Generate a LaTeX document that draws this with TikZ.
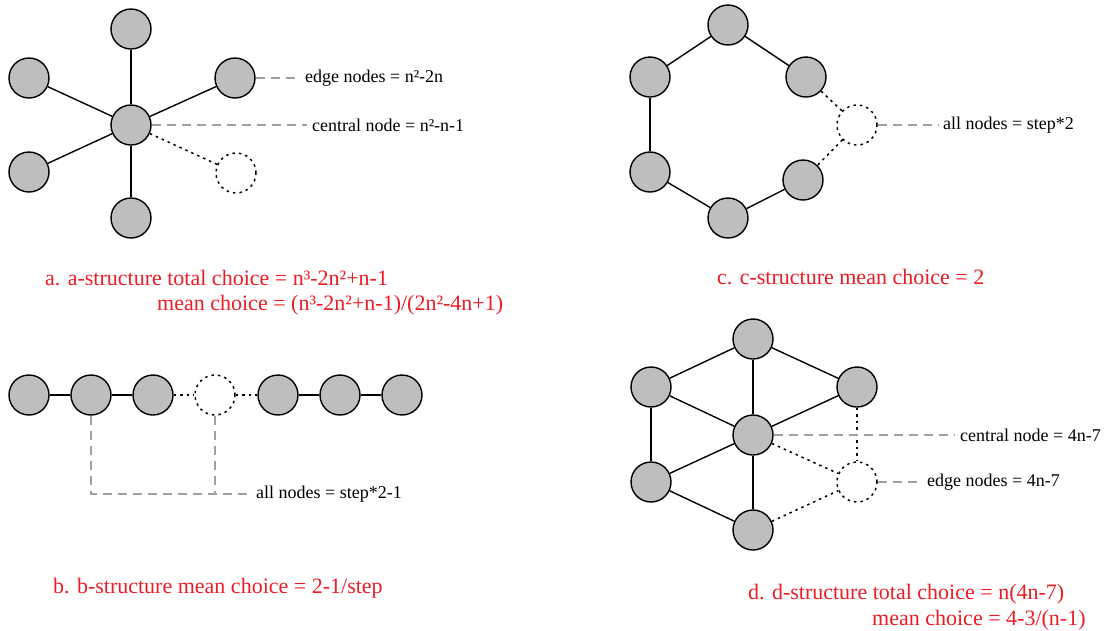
\documentclass[tikz,border=0pt]{standalone}
\usepackage{fontspec}
\setmainfont{Liberation Serif}
\definecolor{nodegray}{RGB}{189,190,192}
\definecolor{capred}{RGB}{237,28,36}
\definecolor{leadgray}{RGB}{160,160,160}
\begin{document}
\begin{tikzpicture}[x=1pt,y=-1pt,
  vert/.style={circle,draw,line width=1.4pt,fill=nodegray,minimum size=40pt,inner sep=0pt},
  ghost/.style={circle,draw,line width=1.5pt,dash pattern=on 2.5pt off 4pt,minimum size=40pt,inner sep=0pt},
  link/.style={line width=1.4pt},
  dlink/.style={line width=1.5pt,dash pattern=on 2.5pt off 4pt},
  leader/.style={leadgray,line width=1.2pt,dash pattern=on 9pt off 6pt},
  note/.style={font=\fontsize{18}{20}\selectfont,inner xsep=5pt,inner ysep=0pt,anchor=west},
  caption/.style={font=\fontsize{22}{24}\selectfont,text=capred,inner sep=0pt,anchor=west}]
\useasboundingbox (0,0) rectangle (1108,630);
\node[vert] (a0) at (131,125) {};
\node[vert] (a1) at (131,29) {};
\node[vert] (a2) at (235,78) {};
\node[vert] (a3) at (29,78) {};
\node[vert] (a4) at (29,172) {};
\node[vert] (a5) at (131,218) {};
\node[ghost] (ax) at (236,173) {};
\draw[link] (a0) -- (a1);
\draw[link] (a0) -- (a2);
\draw[link] (a0) -- (a3);
\draw[link] (a0) -- (a4);
\draw[link] (a0) -- (a5);
\draw[dlink] (a0) -- (ax);
\node[note] (aedge) at (300,78) {edge nodes = n²-2n};
\node[note] (acent) at (307,125) {central node = n²-n-1};
\draw[leader] (a2.east) -- (aedge.west);
\draw[leader] (a0.east) -- (acent.west);
\node[caption] (acap1) at (45,278) {a. a-structure total choice = n³-2n²+n-1};
\node[caption] (acap2) at (157,305) {mean choice = (n³-2n²+n-1)/(2n²-4n+1)};
\node[vert] (b1) at (29,395) {};
\node[vert] (b2) at (91,395) {};
\node[vert] (b3) at (153,395) {};
\node[ghost] (b4) at (215,395) {};
\node[vert] (b5) at (278,395) {};
\node[vert] (b6) at (340,395) {};
\node[vert] (b7) at (402,395) {};
\draw[link] (b1) -- (b2);
\draw[link] (b2) -- (b3);
\draw[link] (b5) -- (b6);
\draw[link] (b6) -- (b7);
\draw[dlink] (b3) -- (b4);
\draw[dlink] (b4) -- (b5);
\node[note] (btxt) at (251,494) {all nodes = step*2-1};
\draw[leader] (b2.south) |- (btxt.west);
\draw[leader] (b4.south) -- (b4.south |- btxt.west);
\node[caption] (bcap) at (53,588) {b. b-structure mean choice = 2-1/step};
\node[vert] (c1) at (728,25) {};
\node[vert] (c2) at (806,77) {};
\node[vert] (c3) at (803,180) {};
\node[vert] (c4) at (728,218) {};
\node[vert] (c5) at (650,172) {};
\node[vert] (c6) at (650,77) {};
\node[ghost] (cx) at (857,125) {};
\draw[link] (c1) -- (c2);
\draw[link] (c3) -- (c4);
\draw[link] (c4) -- (c5);
\draw[link] (c5) -- (c6);
\draw[link] (c6) -- (c1);
\draw[dlink] (c2) -- (cx);
\draw[dlink] (cx) -- (c3);
\node[note] (ctxt) at (938,125) {all nodes = step*2};
\draw[leader] (cx.east) -- (ctxt.west);
\node[caption] (ccap) at (717,277) {c. c-structure mean choice = 2};
\node[vert] (d0) at (753,435) {};
\node[vert] (d1) at (753,339) {};
\node[vert] (d2) at (857,387) {};
\node[vert] (d3) at (651,387) {};
\node[vert] (d4) at (651,482) {};
\node[vert] (d5) at (753,530) {};
\node[ghost] (dx) at (857,482) {};
\draw[link] (d1) -- (d3);
\draw[link] (d1) -- (d0);
\draw[link] (d1) -- (d2);
\draw[link] (d3) -- (d0);
\draw[link] (d3) -- (d4);
\draw[link] (d2) -- (d0);
\draw[link] (d0) -- (d4);
\draw[link] (d0) -- (d5);
\draw[link] (d4) -- (d5);
\draw[dlink] (d2) -- (dx);
\draw[dlink] (d0) -- (dx);
\draw[dlink] (d5) -- (dx);
\node[note] (dcent) at (955,435) {central node = 4n-7};
\node[note] (dedge) at (922,482) {edge nodes = 4n-7};
\draw[leader] (d0.east) -- (dcent.west);
\draw[leader] (dx.east) -- (dedge.west);
\node[caption] (dcap1) at (748,594) {d. d-structure total choice = n(4n-7)};
\node[caption] (dcap2) at (872,620) {mean choice = 4-3/(n-1)};
\end{tikzpicture}
\end{document}
